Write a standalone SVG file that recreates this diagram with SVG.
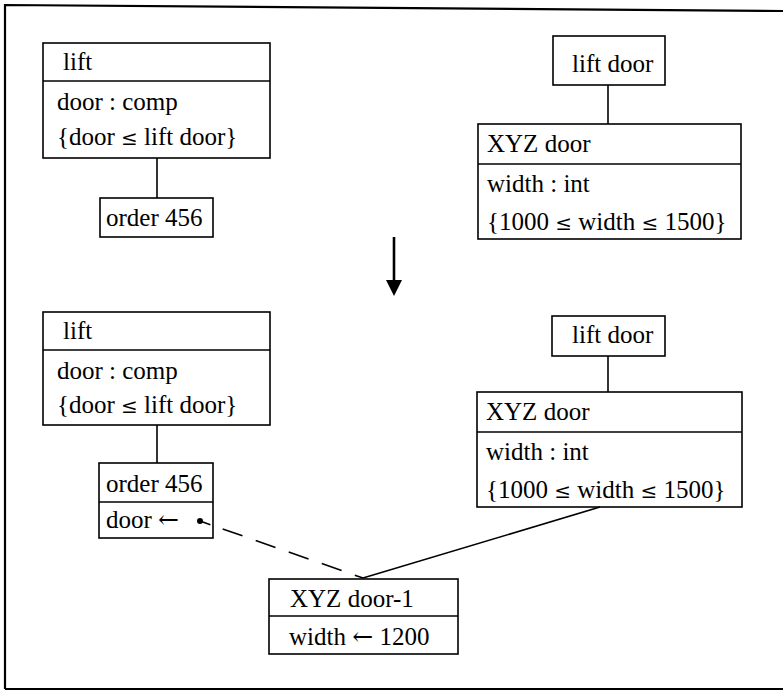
<svg xmlns="http://www.w3.org/2000/svg" width="783" height="693" viewBox="0 0 783 693">
<style>
.box{fill:#fff;stroke:#000;stroke-width:1.6}
.div{stroke:#000;stroke-width:1.6}
.t{font-family:"Liberation Serif","DejaVu Serif",serif;font-size:25px;fill:#000}
.s{font-family:"DejaVu Serif","Liberation Serif",serif;font-size:20px}
.a{font-family:"DejaVu Serif","Liberation Serif",serif;font-size:25px}
.c{stroke:#000;stroke-width:1.6;fill:none}
.frame{stroke:#000;stroke-width:2.2;fill:none}
</style>
<rect width="783" height="693" fill="#fff"/>
<g id="frame">
<path class="frame" d="M5,689 L5,5 L783,11"/>
<path class="frame" d="M5,689 L783,689"/>
</g>
<g id="lift-top">
<rect class="box" x="43" y="43" width="227" height="115"/>
<line class="div" x1="43" y1="81" x2="270" y2="81"/>
<text class="t" x="63" y="70">lift</text>
<text class="t" x="57" y="110">door : comp</text>
<text class="t" x="57" y="145">{door <tspan class="s">≤</tspan> lift door}</text>
</g>
<g id="order456-top">
<rect class="box" x="100" y="198" width="113" height="39"/>
<text class="t" x="106" y="226">order 456</text>
</g>
<g id="liftdoor-top">
<rect class="box" x="553" y="36" width="112" height="49"/>
<text class="t" x="572" y="72">lift door</text>
</g>
<g id="xyzdoor-top">
<rect class="box" x="478" y="124" width="263" height="115"/>
<line class="div" x1="478" y1="164" x2="741" y2="164"/>
<text class="t" x="487" y="152">XYZ door</text>
<text class="t" x="487" y="192">width : int</text>
<text class="t" x="487" y="230">{1000 <tspan class="s">≤</tspan> width <tspan class="s">≤</tspan> 1500}</text>
</g>
<g id="lift-bottom">
<rect class="box" x="43" y="312" width="227" height="113"/>
<line class="div" x1="43" y1="350" x2="270" y2="350"/>
<text class="t" x="63" y="339">lift</text>
<text class="t" x="57" y="379">door : comp</text>
<text class="t" x="57" y="413">{door <tspan class="s">≤</tspan> lift door}</text>
</g>
<g id="order456-bottom">
<rect class="box" x="99" y="463" width="114" height="75"/>
<line class="div" x1="99" y1="502" x2="213" y2="502"/>
<text class="t" x="106" y="492">order 456</text>
<text class="t" x="106" y="528">door <tspan class="a">←</tspan></text>
</g>
<g id="liftdoor-bottom">
<rect class="box" x="552" y="316" width="113" height="40"/>
<text class="t" x="572" y="343">lift door</text>
</g>
<g id="xyzdoor-bottom">
<rect class="box" x="477" y="392" width="265" height="115"/>
<line class="div" x1="477" y1="432" x2="742" y2="432"/>
<text class="t" x="486" y="420">XYZ door</text>
<text class="t" x="486" y="460">width : int</text>
<text class="t" x="486" y="498">{1000 <tspan class="s">≤</tspan> width <tspan class="s">≤</tspan> 1500}</text>
</g>
<g id="xyzdoor1">
<rect class="box" x="269" y="579" width="189" height="75"/>
<line class="div" x1="269" y1="616" x2="458" y2="616"/>
<text class="t" x="290" y="607">XYZ door-1</text>
<text class="t" x="289" y="645">width <tspan class="a">←</tspan> 1200</text>
</g>
<g id="connectors">
<line class="c" x1="157" y1="158" x2="157" y2="198"/>
<line class="c" x1="608" y1="85" x2="608" y2="124"/>
<line class="c" x1="157" y1="425" x2="157" y2="463"/>
<line class="c" x1="608" y1="356" x2="608" y2="392"/>
<line class="c" x1="600" y1="507" x2="363" y2="578"/>
<line class="c" x1="200" y1="521" x2="363" y2="578" stroke-dasharray="11 13 21 14 21 14 21 14 21 14 21 14"/>
<circle cx="200" cy="521" r="3" fill="#000"/>
<line x1="394" y1="237" x2="394" y2="282" stroke="#000" stroke-width="2.6"/>
<polygon points="386,280 402,280 394,296" fill="#000"/>
</g>
</svg>
